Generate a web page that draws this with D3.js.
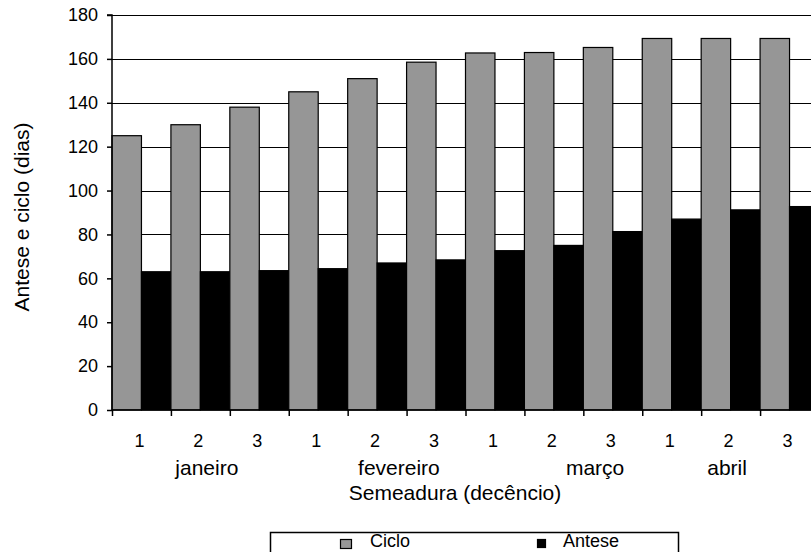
<!DOCTYPE html>
<html>
<head>
<meta charset="utf-8">
<script src="https://cdn.jsdelivr.net/npm/d3@7"></script>
<style>
  html, body { margin: 0; padding: 0; background: #fff; }
  svg { display: block; font-family: "Liberation Sans", Arial, sans-serif; }
</style>
</head>
<body>
<svg id="chart" width="811" height="552"></svg>
<script>
// ---- data ----
const decendios = ["1","2","3","1","2","3","1","2","3","1","2","3"];
const ciclo  = [125, 130, 138, 145, 151, 158.5, 162.7, 162.9, 165.2, 169.3, 169.3, 169.3];
const antese = [63, 63, 63.5, 64.4, 67, 68.4, 72.6, 75, 81.3, 87, 91.2, 92.7];
const seriesNames = ["Ciclo", "Antese"];
const seriesColors = ["#969696", "#000000"];
const months = ["janeiro", "fevereiro", "março", "abril"];
const monthPos = [1.61, 4.87, 8.2, 10.44]; // label centre in category units
const yTicks = [0, 20, 40, 60, 80, 100, 120, 140, 160, 180];

// ---- layout ----
const W = 811, H = 552;
const pLeft = 112, pRight = 819, pTop = 15, pBottom = 410;

const svg = d3.select("#chart");

const x = d3.scaleBand().domain(d3.range(decendios.length)).range([pLeft, pRight]).padding(0);
const xs = d3.scaleBand().domain(seriesNames).range([0, x.bandwidth()]).padding(0);
const xIdx = d3.scaleLinear().domain([0, decendios.length]).range([pLeft, pRight]);
const y = d3.scaleLinear().domain([0, 180]).range([pBottom, pTop]);

// gridlines
svg.append("g")
  .selectAll("line")
  .data(yTicks.filter(d => d > 0))
  .join("line")
  .attr("x1", pLeft).attr("x2", W)
  .attr("y1", d => Math.round(y(d)) + 0.5).attr("y2", d => Math.round(y(d)) + 0.5)
  .attr("stroke", "#000").attr("stroke-width", 1);

// bars
const data = decendios.map((d, i) => ({ i, values: [ciclo[i], antese[i]] }));
const groups = svg.append("g").selectAll("g")
  .data(data).join("g")
  .attr("transform", d => `translate(${x(d.i)},0)`);

groups.selectAll("rect")
  .data(d => d.values.map((v, k) => ({ k, v })))
  .join("rect")
  .attr("x", d => xs(seriesNames[d.k]))
  .attr("width", xs.bandwidth())
  .attr("y", d => y(d.v))
  .attr("height", d => y(0) - y(d.v))
  .attr("fill", d => seriesColors[d.k])
  .attr("stroke", "#000")
  .attr("stroke-width", 1.2);

// y axis
const yAxis = d3.axisLeft(y).tickValues(yTicks).tickSize(5).tickPadding(9);
const gy = svg.append("g").attr("transform", `translate(${pLeft},0)`).call(yAxis);
gy.select(".domain").attr("stroke", "#000").attr("stroke-width", 1.5).attr("d", `M-5,${pTop}H0V${pBottom}`);
gy.selectAll(".tick line").attr("stroke", "#000").attr("stroke-width", 1.5);
gy.selectAll(".tick text").attr("font-size", 18).attr("fill", "#000")
  .attr("font-family", "Liberation Sans, Arial, sans-serif");

// x axis
const xAxis = d3.axisBottom(xIdx).tickValues(d3.range(0, decendios.length + 1)).tickSize(6).tickFormat("");
const gx = svg.append("g").attr("transform", `translate(0,${pBottom})`).call(xAxis);
gx.select(".domain").attr("stroke", "#000").attr("stroke-width", 1.5).attr("d", `M${pLeft},0H${W}`);
gx.selectAll(".tick line").attr("stroke", "#000").attr("stroke-width", 1.5);

svg.append("g").selectAll("text")
  .data(decendios).join("text")
  .attr("x", (d, i) => x(i) + x.bandwidth() / 2 - 2)
  .attr("y", 447)
  .attr("text-anchor", "middle")
  .attr("font-size", 18)
  .text(d => d);

svg.append("g").selectAll("text")
  .data(months).join("text")
  .attr("x", (d, i) => xIdx(monthPos[i]))
  .attr("y", 475)
  .attr("text-anchor", "middle")
  .attr("font-size", 21)
  .text(d => d);

svg.append("text")
  .attr("x", 455).attr("y", 500)
  .attr("text-anchor", "middle")
  .attr("font-size", 21)
  .text("Semeadura (decêncio)");

svg.append("text")
  .attr("transform", `translate(29,217) rotate(-90)`)
  .attr("text-anchor", "middle")
  .attr("font-size", 21)
  .text("Antese e ciclo (dias)");

// legend
const lg = svg.append("g");
lg.append("rect")
  .attr("x", 270.5).attr("y", 532.5).attr("width", 408).attr("height", 40)
  .attr("fill", "#fff").attr("stroke", "#000").attr("stroke-width", 1.5);
const legendX = [340, 537];
const legendSize = [11, 8];
seriesNames.forEach((name, k) => {
  lg.append("rect")
    .attr("x", legendX[k] + 0.5).attr("y", 539.5)
    .attr("width", legendSize[k]).attr("height", k === 0 ? 9 : 8)
    .attr("fill", seriesColors[k]).attr("stroke", "#000").attr("stroke-width", 1.2);
  lg.append("text")
    .attr("x", legendX[k] + (k === 0 ? 30 : 26)).attr("y", 547)
    .attr("font-size", 18)
    .text(name);
});
</script>
</body>
</html>
